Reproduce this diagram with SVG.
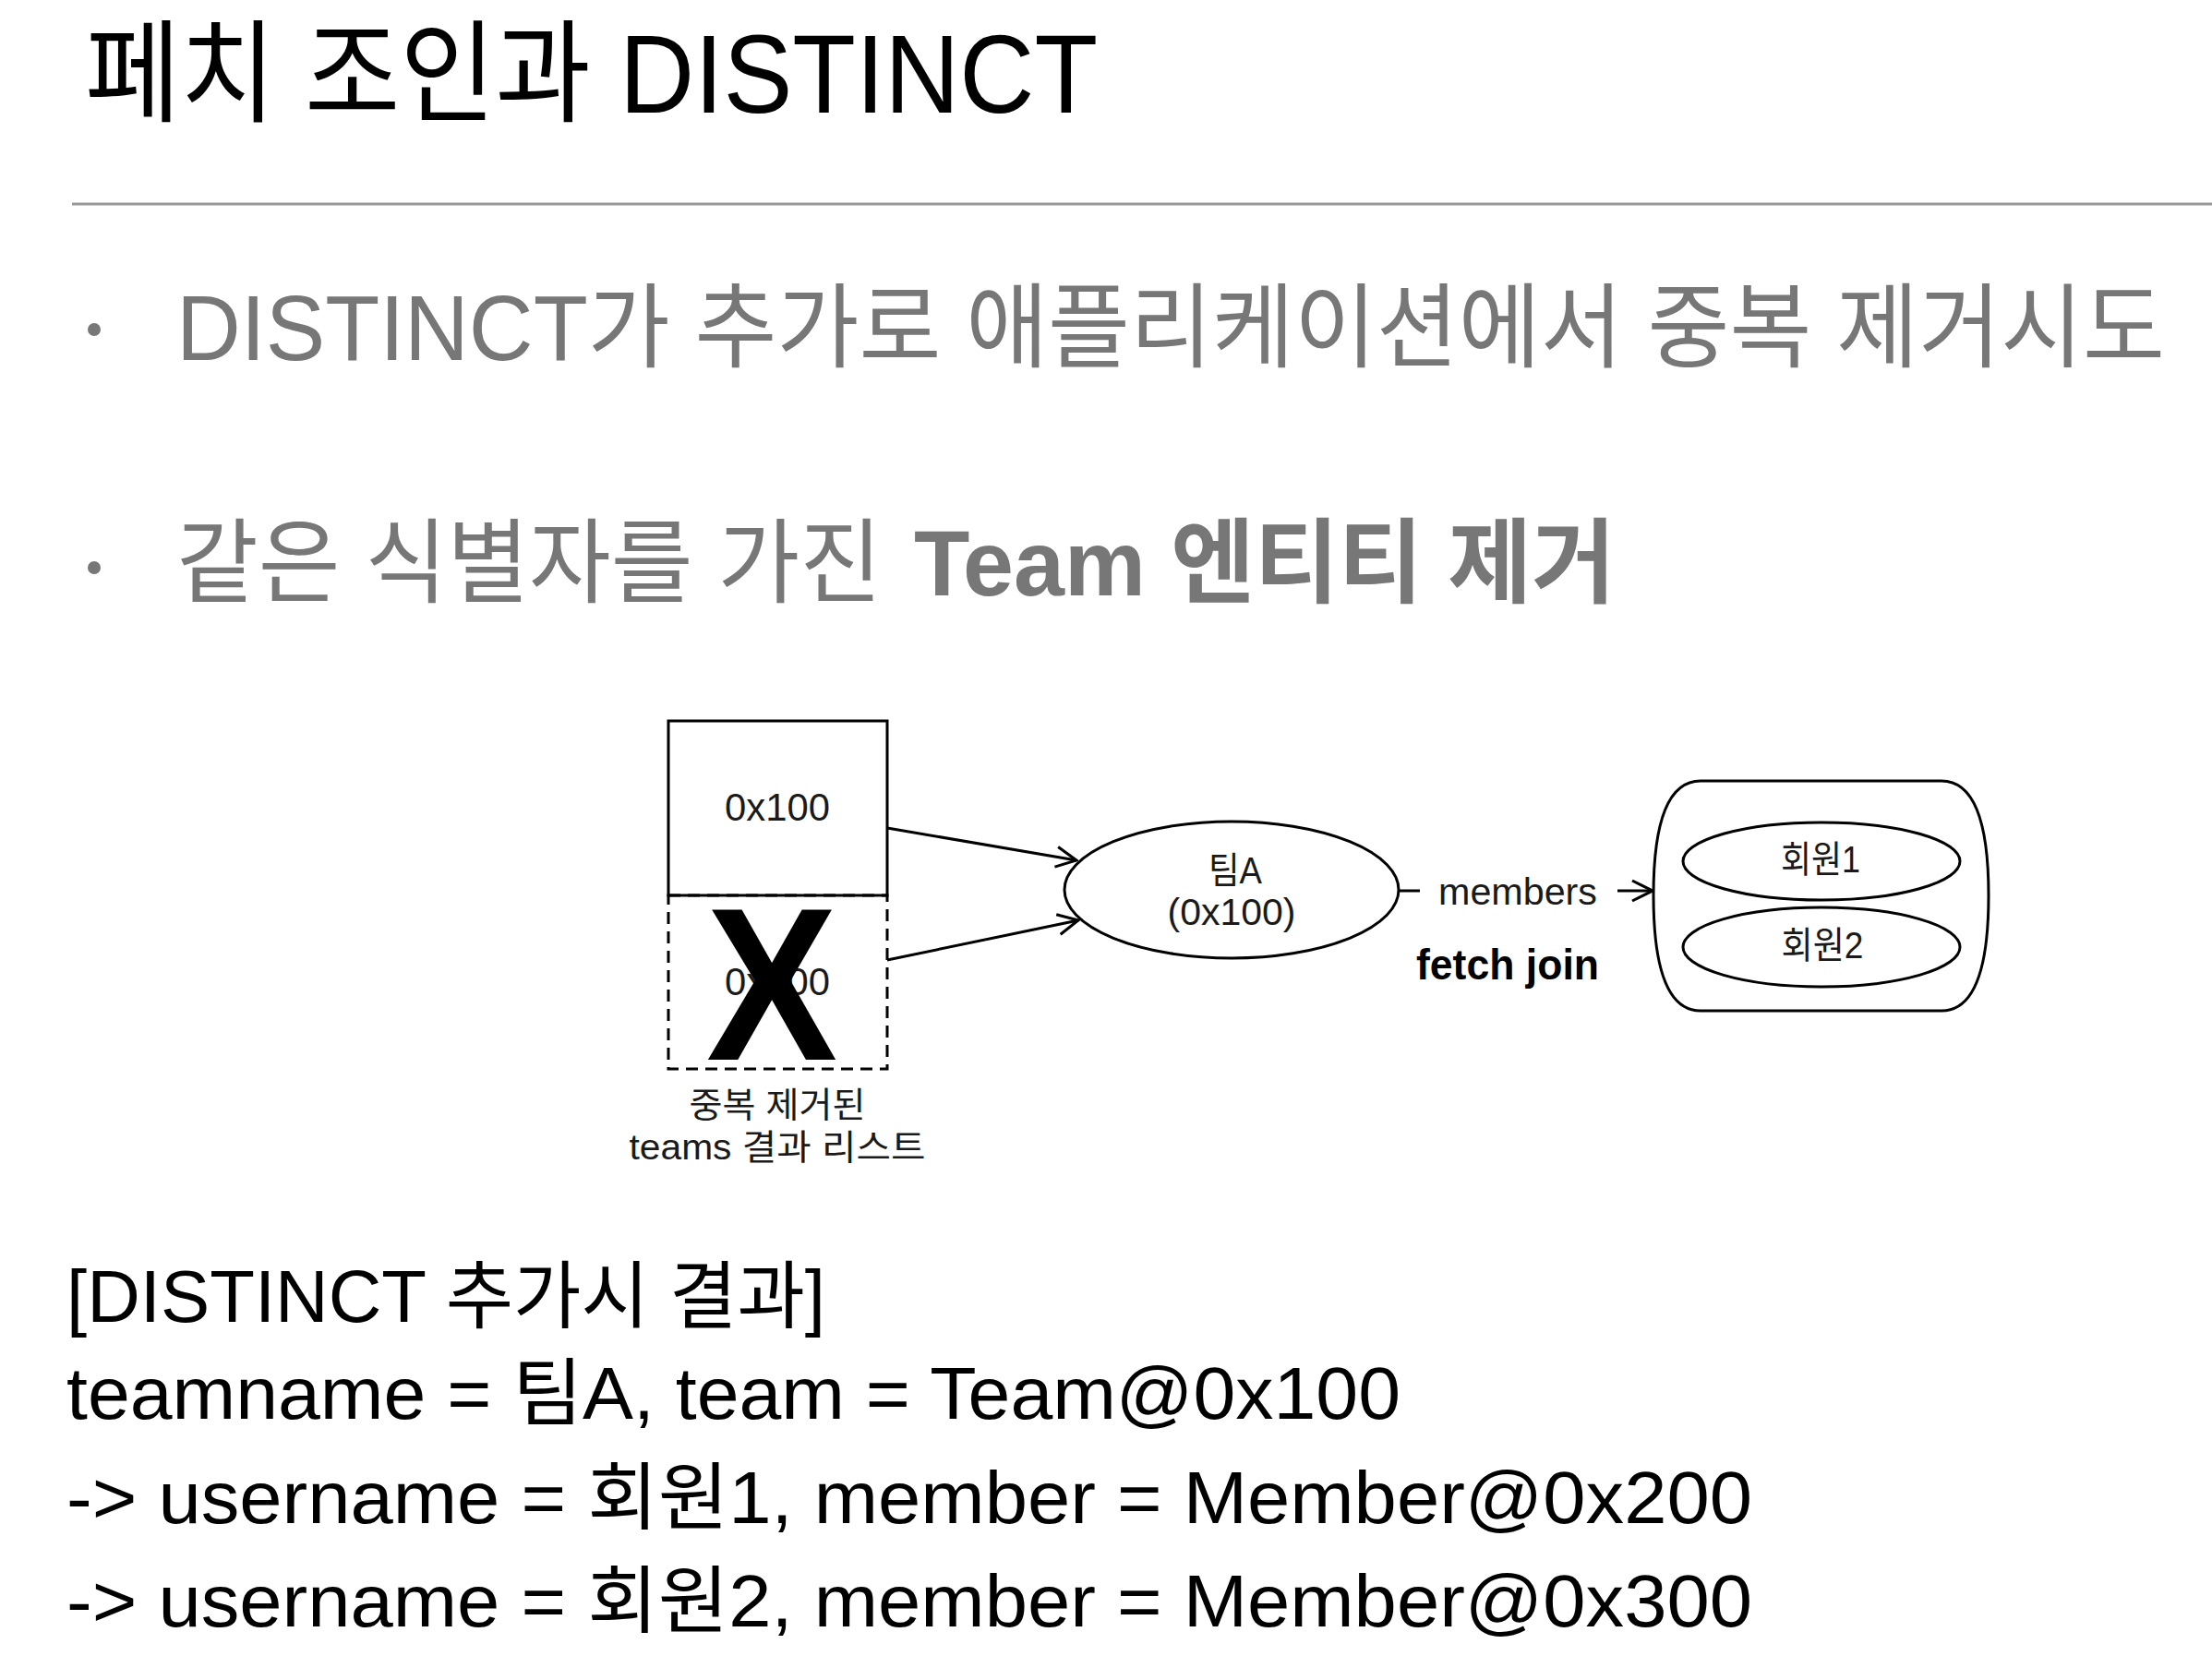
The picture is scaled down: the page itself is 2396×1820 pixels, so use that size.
<svg xmlns="http://www.w3.org/2000/svg" width="2396" height="1820" viewBox="0 0 2396 1820">
<style>
text{font-family:"Liberation Sans","Noto Sans CJK KR",sans-serif;}
.title{font-size:121px;fill:#000;}
.bul{font-size:100px;fill:#777;}
.bold{font-weight:bold;}
.res{font-size:80px;fill:#000;}
.lbl{font-size:40px;fill:#1a1a1a;text-anchor:middle;}
.shape{fill:#fff;stroke:#000;stroke-width:3;}
.conn{fill:none;stroke:#000;stroke-width:3;}
</style>
<defs>
<marker id="vee" markerUnits="userSpaceOnUse" markerWidth="30" markerHeight="30" viewBox="0 0 30 30" refX="28" refY="15" orient="auto">
<path d="M6,4 L28,15 L6,26" fill="none" stroke="#000" stroke-width="3"/>
</marker>
</defs>
<rect width="2396" height="1820" fill="#fff"/>
<g id="header">
<text class="title" x="92" y="122" textLength="1097" lengthAdjust="spacingAndGlyphs">페치 조인과 DISTINCT</text>
<line x1="78" y1="221" x2="2396" y2="221" stroke="#999" stroke-width="3"/>
</g>
<g id="bullets">
<circle cx="102" cy="357" r="7" fill="#777"/>
<text class="bul" x="191" y="390" textLength="2154" lengthAdjust="spacingAndGlyphs">DISTINCT가 추가로 애플리케이션에서 중복 제거시도</text>
<circle cx="102" cy="615" r="7" fill="#777"/>
<text class="bul" x="191" y="645" textLength="764" lengthAdjust="spacingAndGlyphs">같은 식별자를 가진</text>
<text class="bul bold" x="990" y="645" textLength="760" lengthAdjust="spacingAndGlyphs">Team 엔티티 제거</text>
</g>
<g id="connectors">
<line class="conn" x1="961" y1="897" x2="1166" y2="932" marker-end="url(#vee)"/>
<line class="conn" x1="961" y1="1040" x2="1168" y2="997" marker-end="url(#vee)"/>
<line class="conn" x1="1515" y1="965" x2="1538" y2="965"/>
<line class="conn" x1="1752" y1="965" x2="1790" y2="965" marker-end="url(#vee)"/>
<text x="1644" y="980" style="font-size:41px;fill:#1a1a1a;text-anchor:middle" textLength="172" lengthAdjust="spacingAndGlyphs">members</text>
<text x="1633" y="1061" style="font-size:46px;font-weight:bold;fill:#000;text-anchor:middle" textLength="198" lengthAdjust="spacingAndGlyphs">fetch join</text>
</g>
<g id="node-team-list-1">
<rect class="shape" x="724" y="781" width="237" height="189"/>
<text class="lbl" x="842" y="889" style="font-size:42px" textLength="114" lengthAdjust="spacingAndGlyphs">0x100</text>
</g>
<g id="node-team-list-2">
<rect x="724" y="970" width="237" height="188" fill="none" stroke="#000" stroke-width="3" stroke-dasharray="13 8"/>
<text class="lbl" x="842" y="1078" style="font-size:42px" textLength="114" lengthAdjust="spacingAndGlyphs">0x100</text>
<text x="836" y="1148" style="font-size:236px;font-weight:bold;fill:#000;text-anchor:middle" textLength="142" lengthAdjust="spacingAndGlyphs">X</text>
<text class="lbl" x="842" y="1210" style="font-size:38px" textLength="191" lengthAdjust="spacingAndGlyphs">중복 제거된</text>
<text class="lbl" x="842" y="1256" style="font-size:38px" textLength="321" lengthAdjust="spacingAndGlyphs">teams 결과 리스트</text>
</g>
<g id="node-teamA">
<ellipse class="shape" cx="1334" cy="964" rx="181" ry="74"/>
<text class="lbl" x="1338" y="957" textLength="58" lengthAdjust="spacingAndGlyphs">팀A</text>
<text class="lbl" x="1334" y="1002" textLength="139" lengthAdjust="spacingAndGlyphs">(0x100)</text>
</g>
<g id="node-members">
<path class="shape" d="M1842,846 H2103 Q2154,846 2154,970 Q2154,1095 2103,1095 H1842 Q1791,1095 1791,970 Q1791,846 1842,846 Z"/>
<g id="node-member1">
<ellipse class="shape" cx="1973" cy="933" rx="150" ry="42"/>
<text class="lbl" x="1972" y="945" textLength="86" lengthAdjust="spacingAndGlyphs">회원1</text>
</g>
<g id="node-member2">
<ellipse class="shape" cx="1973" cy="1026" rx="150" ry="43"/>
<text class="lbl" x="1974" y="1038" textLength="89" lengthAdjust="spacingAndGlyphs">회원2</text>
</g>
</g>
<g id="result">
<text class="res" x="72" y="1432" textLength="822" lengthAdjust="spacingAndGlyphs">[DISTINCT 추가시 결과]</text>
<text class="res" x="72" y="1537" textLength="1445" lengthAdjust="spacingAndGlyphs">teamname = 팀A, team = Team@0x100</text>
<text class="res" x="72" y="1650" textLength="1826" lengthAdjust="spacingAndGlyphs">-&gt; username = 회원1, member = Member@0x200</text>
<text class="res" x="72" y="1762" textLength="1826" lengthAdjust="spacingAndGlyphs">-&gt; username = 회원2, member = Member@0x300</text>
</g>
</svg>
